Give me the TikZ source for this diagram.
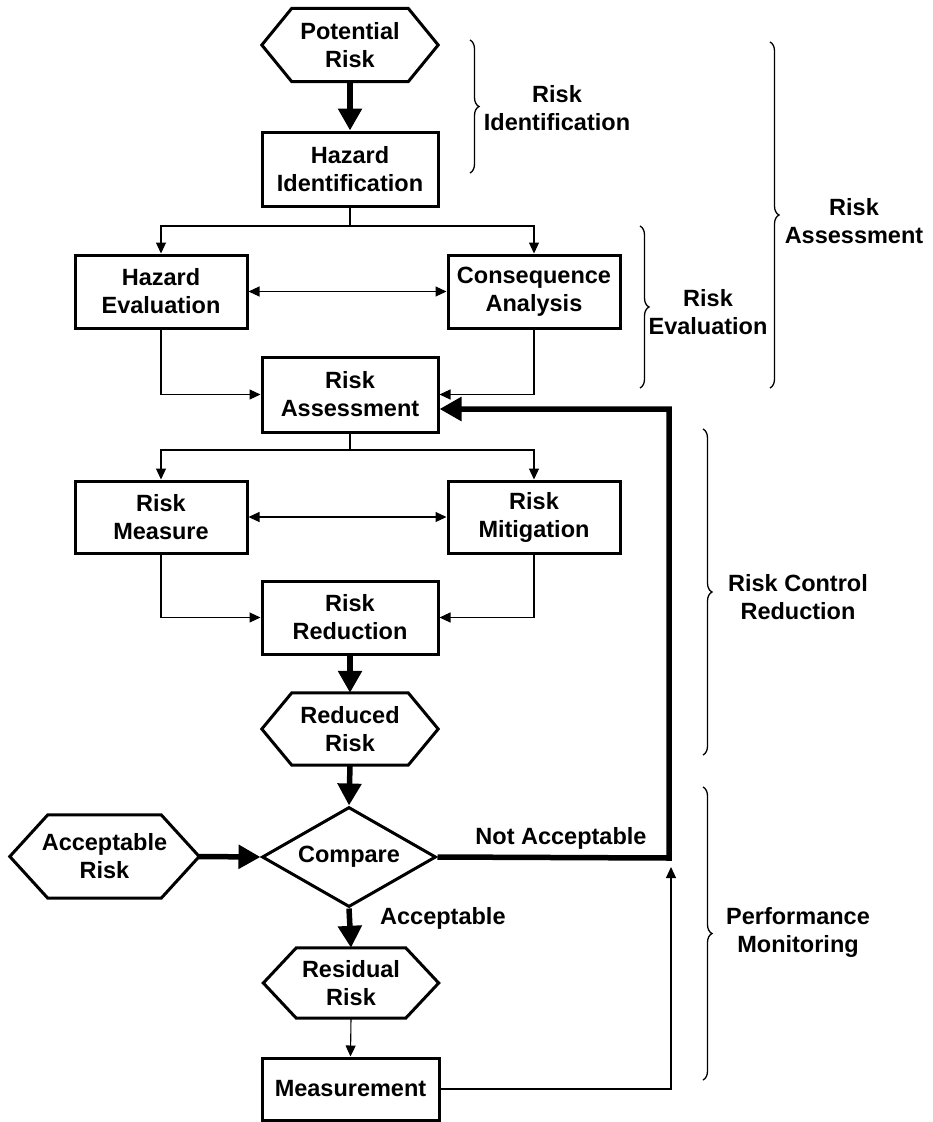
\documentclass[tikz,border=0pt]{standalone}
\usepackage{fontspec}
\setmainfont{Liberation Sans}
\usetikzlibrary{arrows.meta,shapes.geometric,decorations.pathreplacing}
\newcommand\drawhex[2]{\draw[hexline] (#1.west) -- ([xshift=#2]#1.north west) -- ([xshift=-#2]#1.north east) -- (#1.east) -- ([xshift=-#2]#1.south east) -- ([xshift=#2]#1.south west) -- cycle;}
\begin{document}
\begin{tikzpicture}[x=1pt,y=-1pt,
  every node/.style={font=\fontsize{23.5}{28}\selectfont\bfseries, align=center, inner sep=0pt},
  boxA/.style={draw, line width=3pt, minimum width=176pt, minimum height=74pt},
  boxS/.style={draw, line width=3pt, minimum width=172pt, minimum height=73pt},
  hexn/.style={minimum width=176pt, minimum height=73pt},
  hexline/.style={line width=3pt, line join=miter},
  conn/.style={line width=1.1pt, -{Triangle[length=11pt,width=10pt]}},
  plain/.style={line width=1.1pt},
  big/.style={line width=5.5pt, line join=miter, -{Triangle[length=22pt,width=23pt]}},
  brc/.style={line width=1.3pt, decorate, decoration={brace, amplitude=9pt}}]
\useasboundingbox (0,0) rectangle (932,1122);

% nodes
\node[hexn] (pr) at (350,45) {Potential\\Risk};
\node[boxA] (hi) at (350,169) {Hazard\\Identification};
\node[boxS] (he) at (161,291.5) {Hazard\\Evaluation};
\node[boxS] (ca) at (534,291.5) {Consequence\\Analysis};
\node[boxA, minimum height=75pt] (ra) at (350,394.5) {Risk\\Assessment};
\node[boxS, minimum height=72pt] (rm) at (161,517) {Risk\\Measure};
\node[boxS, minimum height=72pt] (rmi) at (534,517) {Risk\\Mitigation};
\node[boxA, minimum height=73pt] (rr) at (350,617.5) {Risk\\Reduction};
\node[hexn, minimum height=72pt] (red) at (350,729) {Reduced\\Risk};
\node[draw, diamond, aspect=1.74, line width=3pt, minimum width=174pt, minimum height=100pt] (cmp) at (349,857) {Compare};
\node[hexn, minimum width=189pt, minimum height=83pt] (ar) at (104.5,856.5) {Acceptable\\Risk};
\node[hexn, minimum width=175pt, minimum height=70pt] (res) at (351,983) {Residual\\Risk};
\node[boxA, minimum width=177pt, minimum height=62pt] (ms) at (350.5,1089) {Measurement};

\drawhex{pr}{30}
\drawhex{red}{30}
\drawhex{ar}{38}
\drawhex{res}{33}

% coordinates
\coordinate (b1) at (350,226);
\coordinate (b2) at (350,450);
\coordinate (na) at (669,858);
\coordinate (mf) at (671,867);

% connectors
\draw[big] (pr.south) -- (hi.north);
\draw[plain] (hi.south) -- (b1);
\draw[conn] (b1) -| (he.north);
\draw[conn] (b1) -| (ca.north);
\draw[line width=1.1pt, {Triangle[length=11pt,width=10pt]}-{Triangle[length=11pt,width=10pt]}] (he.east) -- (ca.west);
\draw[conn] (he.south) |- (ra.west);
\draw[conn] (ca.south) |- (ra.east);
\draw[plain] (ra.south) -- (b2);
\draw[conn] (b2) -| (rm.north);
\draw[conn] (b2) -| (rmi.north);
\draw[line width=1.1pt, {Triangle[length=11pt,width=10pt]}-{Triangle[length=11pt,width=10pt]}] (rm.east) -- (rmi.west);
\draw[conn] (rm.south) |- (rr.west);
\draw[conn] (rmi.south) |- (rr.east);
\draw[big] (rr.south) -- (red.north);
\draw[big] (red.south) -- (cmp.north);
\draw[big] (ar.east) -- (cmp.west);
\draw[big] (cmp.east) -- (na) |- ([yshift=-14.5pt]ra.east);
\draw[big] (cmp.south) -- (res.north);
\draw[conn] (res.south) -- (ms.north);
\draw[conn] (ms.east) -| (mf);

% edge labels
\node (lna) at (561,838) {Not Acceptable};
\node[anchor=west] (lac) at (380,918) {Acceptable};

% braces
\draw[brc] (470,40) -- (470,173);
\draw[brc] (770,42) -- (770,388);
\draw[brc] (640,226) -- (640,388);
\draw[brc] (703,429) -- (703,755);
\draw[brc] (703,787) -- (703,1080);

\node (tid) at (557,108) {Risk\\Identification};
\node (tas) at (854,221) {Risk\\Assessment};
\node (tev) at (708,312) {Risk\\Evaluation};
\node (tcr) at (798,597) {Risk Control\\Reduction};
\node (tpm) at (798,932) {Performance\\Monitoring};
\end{tikzpicture}
\end{document}
